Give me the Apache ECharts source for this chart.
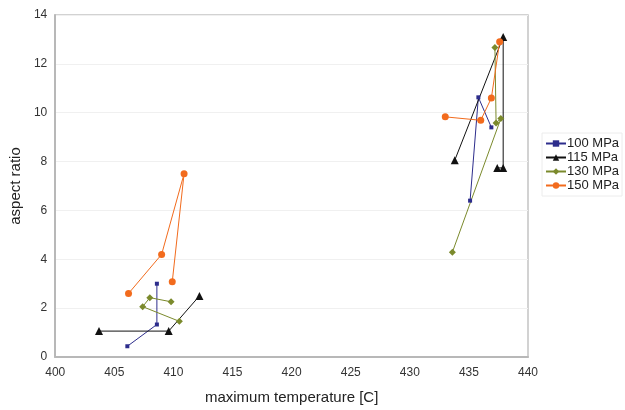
<!DOCTYPE html>
<html>
<head>
<meta charset="utf-8">
<script src="https://cdn.jsdelivr.net/npm/echarts@6/dist/echarts.min.js"></script>
<style>
  html, body { margin: 0; padding: 0; background: #fff; }
  #chart { width: 625px; height: 410px; }
</style>
</head>
<body>
<div id="chart"></div>
<script>
// series names
const pressures = ['100 MPa', '115 MPa', '130 MPa', '150 MPa'];

// [max temperature, aspect ratio] - low temperature group (~405-412 C)
const low100 = [[406.1, 0.44], [408.6, 1.33], [408.6, 3.0]];
const low115 = [[403.7, 1.06], [409.6, 1.06], [412.2, 2.5]];
const low130 = [[409.8, 2.26], [408.0, 2.43], [407.4, 2.06], [410.5, 1.46]];
const low150 = [[406.2, 2.6], [409.0, 4.2], [410.9, 7.5], [409.9, 3.08]];

// high temperature group (~433-438 C)
const high100 = [[435.1, 6.4], [435.8, 10.63], [436.9, 9.4]];
const high115 = [[433.8, 8.05], [437.9, 13.1], [437.9, 7.74], [437.4, 7.74]];
const high130 = [[433.6, 4.29], [437.7, 9.76], [437.3, 9.58], [437.2, 12.67]];
const high150 = [[433.0, 9.83], [436.0, 9.69], [436.9, 10.6], [437.6, 12.9]];

const colors = ['#2d2d8c', '#111111', '#7b8a2c', '#f26b1d'];
const symbols = ['rect', 'triangle', 'diamond', 'circle'];
const sizes = [4, 8, 7, 7];
const groups = [[low100, high100], [low115, high115], [low130, high130], [low150, high150]];

const chart = echarts.init(document.getElementById('chart'));

// each pressure is drawn as two separate lines (one per temperature group)
const series = [];
groups.forEach((g, i) => {
  g.forEach(d => {
    series.push({
      name: pressures[i],
      type: 'line',
      data: d,
      symbol: symbols[i],
      symbolSize: sizes[i],
      showSymbol: true,
      color: colors[i],
      lineStyle: { width: 1, color: colors[i] },
      itemStyle: { color: colors[i] },
      animation: false
    });
  });
});

const option = {
  backgroundColor: '#fff',
  grid: {
    left: 55, right: 97, top: 15, bottom: 48,
    show: true, borderColor: '#c4c4c4', borderWidth: 1.5
  },
  legend: {
    data: pressures,
    orient: 'vertical',
    left: 542, top: 133,
    itemWidth: 20, itemHeight: 8, itemGap: 1,
    padding: [4, 3],
    borderColor: '#ececec', borderWidth: 1,
    textStyle: { fontFamily: 'Liberation Sans', fontSize: 13, color: '#222', padding: [0, 0, 0, -4] }
  },
  xAxis: {
    type: 'value',
    min: 400, max: 440, interval: 5,
    name: 'maximum temperature [C]',
    nameLocation: 'middle', nameGap: 33,
    nameTextStyle: { fontFamily: 'Liberation Sans', fontSize: 15, color: '#222' },
    axisLine: { show: true, lineStyle: { color: '#b8b8b8', width: 2 } },
    axisTick: { show: false },
    splitLine: { show: false },
    axisLabel: { fontFamily: 'Liberation Sans', fontSize: 12, color: '#333', margin: 10 }
  },
  yAxis: {
    type: 'value',
    min: 0, max: 14, interval: 2,
    name: 'aspect ratio',
    nameLocation: 'middle', nameGap: 30,
    nameTextStyle: { fontFamily: 'Liberation Sans', fontSize: 15, color: '#222' },
    axisLine: { show: true, lineStyle: { color: '#b8b8b8', width: 2 } },
    axisTick: { show: false },
    splitLine: { show: true, lineStyle: { color: '#f0f0f0', width: 1 } },
    axisLabel: { fontFamily: 'Liberation Sans', fontSize: 12, color: '#333', margin: 8 }
  },
  series: series
};

chart.setOption(option);
</script>
</body>
</html>
